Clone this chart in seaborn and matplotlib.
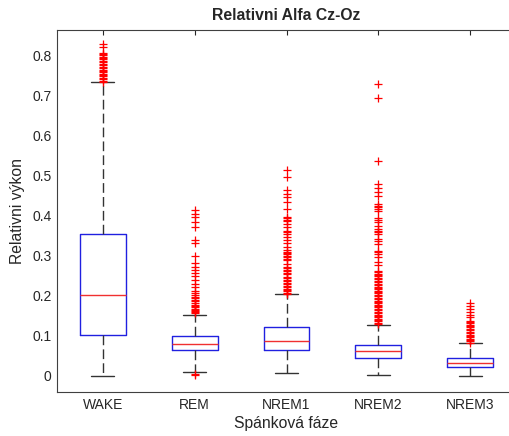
import numpy as np
import pandas as pd
import matplotlib
matplotlib.use("Agg")
import matplotlib.pyplot as plt
import seaborn as sns

# Box statistics
phases = ["WAKE", "REM", "NREM1", "NREM2", "NREM3"]
medians = [0.203, 0.079, 0.087, 0.061, 0.033]
q1 = [0.102, 0.064, 0.065, 0.044, 0.023]
q3 = [0.355, 0.100, 0.121, 0.078, 0.044]
whislo = [0.0, 0.011, 0.007, 0.003, 0.001]
whishi = [0.733, 0.153, 0.204, 0.127, 0.081]

# Outliers (red crosses)
out_wake = [0.828, 0.821, 0.806, 0.803, 0.799, 0.796, 0.792, 0.789, 0.785, 0.782,
            0.778, 0.775, 0.771, 0.768, 0.764, 0.761, 0.757, 0.754, 0.750, 0.747,
            0.743, 0.740, 0.736, 0.734]
out_rem = [0.414, 0.405, 0.397, 0.385, 0.372, 0.340, 0.331, 0.298, 0.281, 0.271,
           0.263, 0.256, 0.248, 0.238, 0.229, 0.221, 0.213, 0.206, 0.202, 0.198,
           0.194, 0.190, 0.186, 0.182, 0.178, 0.175, 0.171, 0.168, 0.165, 0.162,
           0.159, 0.156, 0.006, 0.003]
out_nrem1 = [0.513, 0.496, 0.464, 0.454, 0.446, 0.433, 0.417, 0.396, 0.393, 0.390,
             0.387, 0.379, 0.371, 0.362, 0.358, 0.354, 0.346, 0.339, 0.331, 0.321,
             0.313, 0.310, 0.306, 0.303, 0.299, 0.296, 0.292, 0.288, 0.279, 0.271,
             0.268, 0.264, 0.261, 0.257, 0.254, 0.246, 0.243, 0.239, 0.236, 0.232,
             0.229, 0.225, 0.222, 0.218, 0.215, 0.211, 0.208, 0.205]
out_nrem2 = [0.728, 0.694, 0.536, 0.479, 0.468, 0.458, 0.449, 0.428, 0.424, 0.420,
             0.416, 0.412, 0.395, 0.389, 0.383, 0.375, 0.367, 0.362, 0.358, 0.354,
             0.342, 0.337, 0.330, 0.312, 0.308, 0.304, 0.296, 0.284, 0.276, 0.262,
             0.258, 0.255, 0.251, 0.248, 0.244, 0.241, 0.237, 0.234, 0.230, 0.227,
             0.223, 0.220, 0.216, 0.213, 0.209, 0.206, 0.202, 0.199, 0.195, 0.192,
             0.188, 0.185, 0.181, 0.178, 0.174, 0.171, 0.167, 0.164, 0.160, 0.157,
             0.153, 0.150, 0.146, 0.143, 0.139, 0.136, 0.132, 0.129]
out_nrem3 = [0.183, 0.175, 0.167, 0.160, 0.153, 0.146, 0.138, 0.135, 0.131, 0.128,
             0.124, 0.121, 0.117, 0.114, 0.110, 0.107, 0.103, 0.100, 0.096, 0.093,
             0.089, 0.086, 0.083]

yticks = [0, 0.1, 0.2, 0.3, 0.4, 0.5, 0.6, 0.7, 0.8]
ytick_labels = ["0", "0.1", "0.2", "0.3", "0.4", "0.5", "0.6", "0.7", "0.8"]

sns.set_style("white")
plt.rcParams["font.family"] = ["Liberation Sans", "DejaVu Sans"]
plt.rcParams["text.color"] = "#262626"
plt.rcParams["axes.labelcolor"] = "#262626"

outliers = [out_wake, out_rem, out_nrem1, out_nrem2, out_nrem3]
df = pd.DataFrame({
    "phase": [p for p, o in zip(phases, outliers) for _ in o],
    "value": [v for o in outliers for v in o],
})

fig = plt.figure(figsize=(5.09, 4.36), dpi=100)
ax = fig.add_axes([57 / 509, 44 / 436, 459 / 509, 362 / 436])

sns.stripplot(data=df, x="phase", y="value", order=phases, jitter=False,
              marker="+", size=6, linewidth=0.9, color="red",
              edgecolor="red", ax=ax, zorder=3)

stats = []
for i in range(len(phases)):
    stats.append({"med": medians[i], "q1": q1[i], "q3": q3[i],
                  "whislo": whislo[i], "whishi": whishi[i], "fliers": []})

ax.bxp(stats, positions=range(len(phases)), widths=0.5, capwidths=0.25,
       showfliers=False, manage_ticks=False,
       boxprops=dict(color="#2020e0", linewidth=1.0),
       medianprops=dict(color="#f03030", linewidth=1.0),
       whiskerprops=dict(color="#333333", linewidth=1.0, linestyle=(0, (7, 3))),
       capprops=dict(color="#333333", linewidth=1.0))

ax.set_xlim(-0.5, 4.5)
ax.set_ylim(-0.04, 0.8625)
ax.set_xticks(range(len(phases)))
ax.set_xticklabels(phases, fontsize=10)
ax.set_yticks(yticks)
ax.set_yticklabels(ytick_labels, fontsize=10)
ax.tick_params(direction="in", length=3.5, width=0.8, colors="#262626",
               top=True, right=False, pad=4)
for s in ax.spines.values():
    s.set_color("#404040")
    s.set_linewidth(0.8)
    s.set_visible(True)
ax.spines["right"].set_visible(False)

ax.set_title("Relativni Alfa Cz-Oz", fontsize=11.3, fontweight="bold", pad=7)
ax.set_xlabel("Spánková fáze", fontsize=11.3, labelpad=3)
ax.set_ylabel("Relativni výkon", fontsize=11.3, labelpad=5)

fig.savefig("out.png", dpi=100)
